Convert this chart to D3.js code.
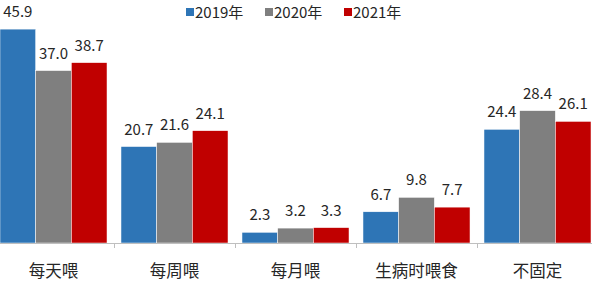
<!DOCTYPE html>
<html>
<head>
<meta charset="utf-8">
<script src="https://cdn.jsdelivr.net/npm/d3@7"></script>
<style>
  body { margin: 0; background: #fff; }
  text { font-family: "Noto Sans CJK SC", "Noto Sans", sans-serif; fill: #262626; }
</style>
</head>
<body>
<div id="chart"></div>
<script>
// categories and series
const categories = ['每天喂', '每周喂', '每月喂', '生病时喂食', '不固定'];
const years = ['2019年', '2020年', '2021年'];
const colors = ['#2e75b6', '#7f7f7f', '#c00000'];
const v2019 = [45.9, 20.7, 2.3, 6.7, 24.4];
const v2020 = [37.0, 21.6, 3.2, 9.8, 28.4];
const v2021 = [38.7, 24.1, 3.3, 7.7, 26.1];
const seriesValues = [v2019, v2020, v2021];

const width = 600, height = 282;
const baseY = 243;

const svg = d3.select('#chart').append('svg')
  .attr('width', width)
  .attr('height', height);

const x0 = d3.scaleBand().domain(categories).range([-7, 598]).padding(0);
const x1 = d3.scaleBand().domain(years).range([0, x0.bandwidth()])
  .paddingInner(0).paddingOuter(0.196);
const y = d3.scaleLinear().domain([0, 50]).range([baseY, 10]);

// bars + value labels
categories.forEach(function(cat, ci) {
  const g = svg.append('g').attr('transform', 'translate(' + x0(cat) + ',0)');
  const rows = years.map(function(yr, si) {
    return { yr: yr, v: seriesValues[si][ci], c: colors[si] };
  });
  g.selectAll('rect').data(rows).enter().append('rect')
    .attr('x', d => x1(d.yr))
    .attr('y', d => y(d.v))
    .attr('width', x1.bandwidth())
    .attr('height', d => baseY - y(d.v))
    .attr('fill', d => d.c)
    .attr('stroke', '#fff')
    .attr('stroke-width', 0.5);
  g.selectAll('text.val').data(rows).enter().append('text')
    .attr('class', 'val')
    .attr('x', d => x1(d.yr) + x1.bandwidth() / 2)
    .attr('y', d => y(d.v) - 12)
    .attr('text-anchor', 'middle')
    .attr('font-size', 15)
    .text(d => d.v.toFixed(1));
});

// category axis
svg.append('line')
  .attr('x1', 0).attr('x2', 592)
  .attr('y1', baseY + 0.5).attr('y2', baseY + 0.5)
  .attr('stroke', '#bfbfbf');
svg.selectAll('line.tick').data(categories.slice(1)).enter().append('line')
  .attr('class', 'tick')
  .attr('x1', d => Math.round(x0(d)) + 0.5).attr('x2', d => Math.round(x0(d)) + 0.5)
  .attr('y1', baseY).attr('y2', baseY + 5)
  .attr('stroke', '#bfbfbf');
svg.selectAll('text.cat').data(categories).enter().append('text')
  .attr('class', 'cat')
  .attr('x', d => x0(d) + x0.bandwidth() / 2)
  .attr('y', 277)
  .attr('text-anchor', 'middle')
  .attr('font-size', 16.5)
  .text(d => d);

// legend
const legend = svg.append('g').attr('transform', 'translate(186,0)');
years.forEach(function(yr, i) {
  const lg = legend.append('g').attr('transform', 'translate(' + (i * 79) + ',0)');
  lg.append('rect').attr('x', 0).attr('y', 8).attr('width', 8).attr('height', 8).attr('fill', colors[i]);
  lg.append('text').attr('x', 9).attr('y', 17.5).attr('font-size', 15).text(yr);
});
</script>
</body>
</html>
